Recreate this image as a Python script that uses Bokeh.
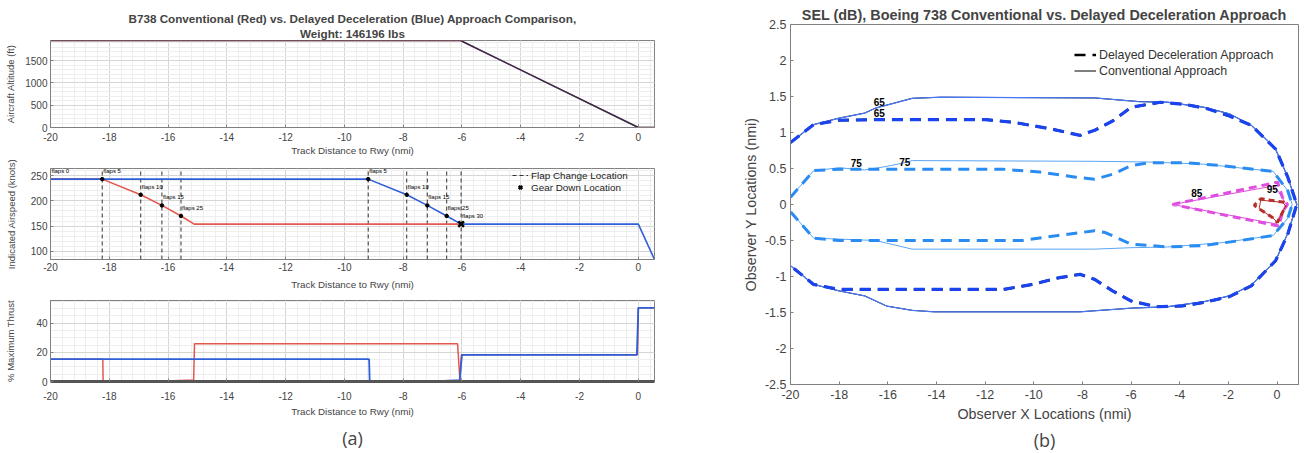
import numpy as np
from bokeh.plotting import figure
from bokeh.layouts import row, column
from bokeh.models import (Spacer, FixedTicker, Legend, LegendItem, Title, Range1d)
from bokeh.core.properties import value
from bokeh.embed import file_html
from bokeh.resources import INLINE

FONT = "Liberation Sans"
RED = "#e2584d"
BLUE = "#2f5fd8"
ALT_COLOR = "#2a2f52"

# ---------------- data, panel (a) ----------------
track_ticks = [-20, -18, -16, -14, -12, -10, -8, -6, -4, -2, 0]
TRACK_RANGE = (-20, 0.55)
ALT_RANGE = (0, 1955)
SPD_RANGE = (84, 264)
THR_RANGE = (0, 55.5)

alt_x = [-20.0, -6.05, 0.0, 0.55]
alt_conv = [1955, 1955, 0, 0]
alt_dd = [1955, 1955, 0, 0]

spd_conv_x = [-20.0, -18.24, -16.93, -16.21, -15.56, -15.11, -6.03]
spd_conv = [243, 243, 212, 191, 170, 154, 154]
spd_dd_x = [-20.0, -9.19, -7.88, -7.18, -6.52, -6.03, 0.0, 0.55]
spd_dd = [243, 243, 212, 191, 170, 154, 154, 84]

flap0_x = [-20.0]
flap0_v = [243]
flap0_lbl = ["flaps 0"]
flap_conv_x = [-18.24, -16.93, -16.21, -15.56]
flap_conv_v = [243, 212, 191, 170]
flap_conv_lbl = ["flaps 5", "flaps 10", "flaps 15", "flaps 25"]
flap_dd_x = [-9.19, -7.88, -7.18, -6.52]
flap_dd_v = [243, 212, 191, 170]
flap_dd_lbl = ["flaps 5", "flaps 10", "flaps 15", "flaps 25"]
gear_x = [-6.03]
gear_v = [154]
gear_lbl = ["flaps 30"]
flap_change_x = [-18.24, -16.93, -16.21, -15.56, -9.19, -7.88, -7.18, -6.52, -6.03]

thr_conv_x = [-20.0, -18.22, -18.21, -16.5, -15.13, -15.1, -6.15, -6.07, -6.02, -0.03, 0.0, 0.55]
thr_conv = [15.3, 15.3, 0, 0, 1, 25.8, 25.8, 1, 18.3, 18.3, 50.5, 50.5]
thr_dd_x = [-20.0, -9.16, -9.14, -7.0, -6.08, -6.0, -0.05, 0.0, 0.55]
thr_dd = [15.3, 15.3, 0, 0, 1, 18.3, 18.3, 50.5, 50.5]

# ---------------- data, panel (b) ----------------
obs_x_ticks = [-20, -18, -16, -14, -12, -10, -8, -6, -4, -2, 0]
obs_y_ticks = [-2.5, -2, -1.5, -1, -0.5, 0, 0.5, 1, 1.5, 2, 2.5]

c65_dd_x = [-20, -19.05, -18.0, -16.2, -12.0, -10.8, -9.3, -8.1, -7.5, -6.76, -6.0, -4.8, -3.76, -2.86,
            -1.96, -1.06, -0.06, 0.44, 0.81,
            0.44, -0.06, -1.06, -1.96, -3.0, -3.9, -4.96, -6.0, -6.76, -7.5, -8.1, -9.0, -10.06,
            -11.25, -18.0, -19.05, -20]
c65_dd_y = [0.86, 1.11, 1.17, 1.18, 1.18, 1.14, 1.05, 0.96, 1.03, 1.16, 1.35, 1.42, 1.39, 1.33,
            1.23, 1.10, 0.77, 0.38, 0.0,
            -0.41, -0.78, -1.13, -1.28, -1.36, -1.41, -1.42, -1.34, -1.20, -1.04, -0.97, -1.02, -1.11,
            -1.18, -1.18, -1.11, -0.85]
c65_cv_x = [-20, -19.05, -18.0, -16.95, -16.5, -15.0, -13.8, -7.5, -5.7, -4.5, -3.0, -1.96, -1.06,
            -0.09, 0.44, 0.81,
            0.44, -0.06, -1.06, -1.96, -3.0, -4.5, -6.0, -8.1, -14.1, -15.0, -16.05, -16.95, -18.0,
            -19.05, -20]
c65_cv_y = [0.86, 1.11, 1.20, 1.27, 1.34, 1.475, 1.49, 1.48, 1.43, 1.42, 1.35, 1.26, 1.10,
            0.79, 0.38, 0.0,
            -0.40, -0.78, -1.12, -1.27, -1.35, -1.42, -1.44, -1.49, -1.49, -1.47, -1.41, -1.27, -1.2,
            -1.11, -0.85]
c75_dd_x = [-20, -19.05, -18.0, -11.25, -9.76, -8.26, -7.5, -6.76, -6.0, -5.26, -3.76, -2.26, -0.16,
            0.44, 0.62,
            0.44, -0.16, -1.5, -3.0, -4.5, -6.0, -7.06, -7.5, -9.0, -10.5, -18.0, -19.05, -20]
c75_dd_y = [0.10, 0.47, 0.49, 0.49, 0.45, 0.38, 0.35, 0.42, 0.54, 0.58, 0.58, 0.54, 0.46,
            0.19, 0.0,
            -0.19, -0.43, -0.50, -0.57, -0.59, -0.55, -0.39, -0.365, -0.43, -0.50, -0.50, -0.467, -0.10]
c75_cv_x = [-20, -19.05, -18.0, -16.95, -16.2, -15.45, -15.0, -7.5, -5.26, -3.0, -0.16, 0.44, 0.62,
            0.44, -0.16, -2.26, -4.5, -6.0, -7.5, -15.0, -16.5, -19.05, -20]
c75_cv_y = [0.10, 0.47, 0.51, 0.48, 0.52, 0.57, 0.61, 0.60, 0.59, 0.56, 0.46, 0.19, 0.0,
            -0.19, -0.43, -0.53, -0.59, -0.60, -0.62, -0.62, -0.50, -0.467, -0.10]
c85_dd_x = [-4.3, 0.02, 0.22, 0.43, 0.22, 0.08, -4.3]
c85_dd_y = [0.0, 0.31, 0.10, 0.0, -0.10, -0.30, 0.0]
c85_cv_x = [-4.3, -0.1, 0.2, 0.38, 0.2, -0.05, -4.3]
c85_cv_y = [0.0, 0.26, 0.10, 0.0, -0.10, -0.27, 0.0]
c95_dd_x = [0.3, -0.67, -0.94, -0.74, -0.19, 0.01, 0.36]
c95_dd_y = [0.03, 0.08, -0.01, -0.06, -0.18, -0.25, -0.02]
c95_cv_x = [-0.67, 0.22, 0.36, 0.01, -0.19, -0.74, -0.67]
c95_cv_y = [0.06, 0.03, -0.02, -0.25, -0.18, -0.06, 0.06]

clabel_x = [-16.35, -16.35, -17.3, -15.3, -3.3, -0.2]
clabel_y = [1.42, 1.27, 0.58, 0.59, 0.16, 0.21]
clabel_t = ["65", "65", "75", "75", "85", "95"]

C65_DD, C65_CV = "#1a44f0", "#4a78f5"
C75_DD, C75_CV = "#2a8cf0", "#5aa6f5"
C85 = "#e04ee0"
C95 = "#b5302a"


def make_fig(width, height, xr, yr, mbl, mbr, mbt, mbb):
    p = figure(width=width, height=height, x_range=xr, y_range=yr, output_backend="svg",
               toolbar_location=None, title=None,
               min_border_left=mbl, min_border_right=mbr, min_border_top=mbt, min_border_bottom=mbb)
    p.background_fill_color = "white"
    p.border_fill_color = "white"
    p.outline_line_color = "#808080"
    return p


def style_axes(p, tick_px, xlab_px, ylab_px, xlabel, ylabel, xticks, yticks, xminor=None, yminor=None,
               ylab_standoff=3, xlab_standoff=3, xtick_standoff=3, ytick_standoff=3):
    p.xaxis.ticker = FixedTicker(ticks=xticks, minor_ticks=xminor or [])
    p.yaxis.ticker = FixedTicker(ticks=yticks, minor_ticks=yminor or [])
    p.xaxis.major_label_overrides = {t: f"{t:g}" for t in xticks}
    p.yaxis.major_label_overrides = {t: f"{t:g}" for t in yticks}
    p.xaxis.axis_label = xlabel
    p.yaxis.axis_label = ylabel
    for ax, lab_px in ((p.xaxis[0], xlab_px), (p.yaxis[0], ylab_px)):
        ax.major_tick_in = 3
        ax.major_tick_out = 0
        ax.minor_tick_in = 0
        ax.minor_tick_out = 0
        ax.axis_line_color = "#808080"
        ax.major_tick_line_color = "#808080"
        ax.major_label_text_font = FONT
        ax.major_label_text_font_size = tick_px
        ax.major_label_text_color = "#444444"
        ax.axis_label_text_font = FONT
        ax.axis_label_text_font_size = lab_px
        ax.axis_label_text_font_style = "normal"
        ax.axis_label_text_color = "#444444"
    p.yaxis.major_label_standoff = ytick_standoff
    p.yaxis.axis_label_standoff = ylab_standoff
    p.xaxis.major_label_standoff = xtick_standoff
    p.xaxis.axis_label_standoff = xlab_standoff


def left_grid(p):
    p.xgrid.grid_line_color = "#d6d6d6"
    p.ygrid.grid_line_color = "#d6d6d6"
    p.xgrid.minor_grid_line_color = "#eeeeee"
    p.ygrid.minor_grid_line_color = "#eeeeee"


xminor_a = list(np.arange(-20, 0.56, 0.4))
LW = 660
XLAB = "Track Distance to Rwy (nmi)"

# ---- (a) top: altitude ----
f1 = make_fig(LW, 158, Range1d(*TRACK_RANGE), Range1d(*ALT_RANGE), 50, 6, 40, 30)
style_axes(f1, "10px", "9.8px", "9.5px", XLAB, "Aircraft Altitude (ft)",
           track_ticks, [0, 500, 1000, 1500], xminor_a, list(range(0, 1956, 100)),
           ylab_standoff=6, xtick_standoff=5, xlab_standoff=1)
left_grid(f1)
f1.line(alt_x, alt_conv, color=RED, line_width=1.5)
f1.line(alt_x, alt_dd, color=ALT_COLOR, line_width=1.5)
f1.add_layout(Title(text="Weight: 146196 lbs", align="center", text_font=FONT,
                    text_font_size="11.7px", text_font_style="bold", standoff=1), "above")
f1.add_layout(Title(text="B738 Conventional (Red) vs. Delayed Deceleration (Blue) Approach Comparison,",
                    align="center", text_font=FONT, text_font_size="11.7px", text_font_style="bold",
                    standoff=0), "above")

# ---- (a) middle: airspeed ----
f2 = make_fig(LW, 134, Range1d(*TRACK_RANGE), Range1d(*SPD_RANGE), 50, 6, 10, 33)
style_axes(f2, "10px", "9.8px", "9.5px", XLAB, "Indicated Airspeed (knots)",
           track_ticks, [100, 150, 200, 250], xminor_a, list(range(90, 264, 10)),
           ylab_standoff=11, xtick_standoff=3, xlab_standoff=5)
left_grid(f2)
flap_r = f2.segment(x0=flap_change_x, y0=SPD_RANGE[0], x1=flap_change_x, y1=SPD_RANGE[1],
                    line_color="#333333", line_width=1, line_dash="4 3")
f2.line(spd_conv_x, spd_conv, color=RED, line_width=1.6)
f2.line(spd_dd_x, spd_dd, color=BLUE, line_width=1.6)
f2.scatter(flap_conv_x, flap_conv_v, size=3.5, color="black")
f2.scatter(flap_dd_x, flap_dd_v, size=3.5, color="black")
gear_r = f2.scatter(gear_x, gear_v, marker="x", size=8, line_width=2.5, color="black")
txt_kw = dict(text_font=value(FONT), text_font_size="6px", text_color="black",
              text_baseline="middle", text_align="left", x_offset=1, y_offset=-8)
f2.text(flap0_x, flap0_v, text=flap0_lbl, **txt_kw)
f2.text(flap_conv_x, flap_conv_v, text=flap_conv_lbl, **txt_kw)
f2.text(flap_dd_x, flap_dd_v, text=flap_dd_lbl, **txt_kw)
f2.text(gear_x, gear_v, text=gear_lbl, **txt_kw)
leg2 = Legend(items=[LegendItem(label="Flap Change Location", renderers=[flap_r]),
                     LegendItem(label="Gear Down Location", renderers=[gear_r])],
              location=(462, 66), orientation="vertical", border_line_color=None,
              background_fill_alpha=0, label_text_font=FONT, label_text_font_size="9.9px",
              label_text_color="#222222", glyph_width=16, glyph_height=12, label_height=12,
              spacing=0, padding=1, margin=0, label_standoff=3)
f2.add_layout(leg2)

# ---- (a) bottom: thrust ----
f3 = make_fig(LW, 161, Range1d(*TRACK_RANGE), Range1d(*THR_RANGE), 50, 6, 8, 69)
style_axes(f3, "10px", "9.8px", "9.5px", XLAB, "% Maximum Thrust",
           track_ticks, [0, 20, 40], xminor_a, list(range(0, 56, 5)),
           ylab_standoff=17, xtick_standoff=10, xlab_standoff=3)
left_grid(f3)
f3.xaxis.axis_line_width = 3
f3.xaxis.axis_line_color = "#555555"
f3.line(thr_conv_x, thr_conv, color=RED, line_width=1.5)
f3.line(thr_dd_x, thr_dd, color=BLUE, line_width=1.8)
f3.add_layout(Title(text="(a)", align="center", text_font="Open Sans", text_font_size="18px",
                    text_font_style="normal", standoff=8), "below")

left_col = column(f1, f2, f3, spacing=0)

# ---- (b) SEL contours ----
fb = make_fig(570, 453, Range1d(-20, 0.88), Range1d(-2.5, 2.5), 60, 2, 24, 69)
style_axes(fb, "12.5px", "14.3px", "14.3px", "Observer X Locations (nmi)", "Observer Y Locations (nmi)",
           obs_x_ticks, obs_y_ticks, ylab_standoff=3, xlab_standoff=4, xtick_standoff=5,
           ytick_standoff=4)
fb.xgrid.grid_line_color = None
fb.ygrid.grid_line_color = None
fb.title = Title(text="SEL (dB), Boeing 738 Conventional vs. Delayed Deceleration Approach",
                 align="center", text_font=FONT, text_font_size="14.4px", text_font_style="bold",
                 standoff=4)

DASH = "11 7"
# black copies underneath (these carry the black legend glyphs)
leg_cv = fb.line(c65_cv_x, c65_cv_y, color="black", line_width=1)
leg_dd = fb.line(c65_dd_x, c65_dd_y, color="black", line_width=2.5, line_dash=DASH)
fb.line(c65_cv_x, c65_cv_y, color=C65_CV, line_width=1.3)
fb.line(c65_dd_x, c65_dd_y, color=C65_DD, line_width=3.2, line_dash=DASH)
fb.line(c75_cv_x, c75_cv_y, color=C75_CV, line_width=1)
fb.line(c75_dd_x, c75_dd_y, color=C75_DD, line_width=3, line_dash=DASH)
fb.line(c85_cv_x, c85_cv_y, color=C85, line_width=1)
fb.line(c85_dd_x, c85_dd_y, color=C85, line_width=3, line_dash="8 5")
fb.line(c95_cv_x, c95_cv_y, color=C95, line_width=1)
fb.line(c95_dd_x, c95_dd_y, color=C95, line_width=3, line_dash="6 4")
fb.text(clabel_x, clabel_y, text=clabel_t, text_font=value(FONT), text_font_size="10px",
        text_font_style="bold", text_color="black", text_align="center", text_baseline="middle")

legb = Legend(items=[LegendItem(label="Delayed Deceleration Approach", renderers=[leg_dd]),
                     LegendItem(label="Conventional Approach", renderers=[leg_cv])],
              location=(284, 306), border_line_color=None, background_fill_alpha=0,
              label_text_font=FONT, label_text_font_size="12.4px", label_text_color="#333333",
              glyph_width=22, glyph_height=15, label_height=15, spacing=1, padding=2, margin=0,
              label_standoff=3)
fb.add_layout(legb)
fb.add_layout(Title(text="(b)", align="center", text_font="Open Sans", text_font_size="18px",
                    text_font_style="normal", standoff=3), "below")

layout = row(left_col, Spacer(width=70, height=453), fb, spacing=0)

open("out.html", "w").write(file_html(layout, INLINE))
